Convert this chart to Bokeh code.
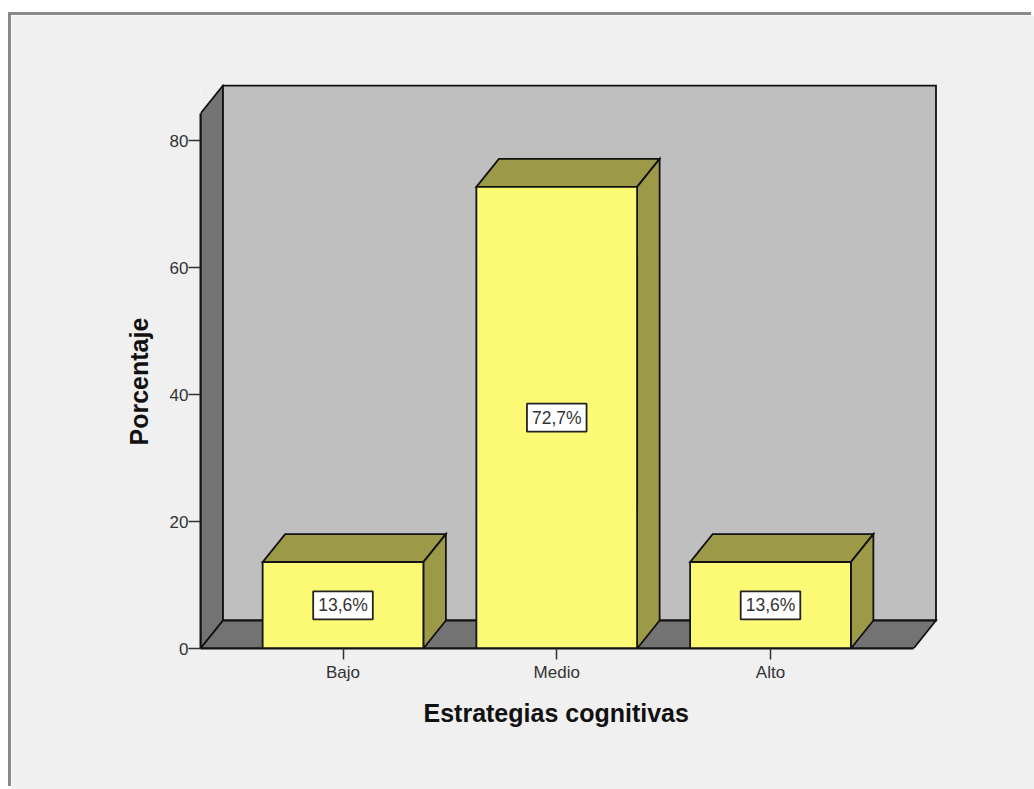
from bokeh.embed import file_html
from bokeh.models import FixedTicker, InlineStyleSheet, Label, Range1d, Title
from bokeh.plotting import figure
from bokeh.resources import INLINE

categories = ["Bajo", "Medio", "Alto"]
percentages = [13.6, 72.7, 13.6]
y_ticks = [0, 20, 40, 60, 80]
x_title = "Estrategias cognitivas"
y_title = "Porcentaje"

# Pixel geometry of the page and of the plotting frame
PAGE_W, PAGE_H = 1034, 789
PANEL_X, PANEL_Y = 11, 15
LEFT, RIGHT, TOP, BOTTOM = 200, 938, 84, 648
PX_PER_PCT = 6.35
PX_PER_CAT = 213.75
CAT0_PX = 342.5

# Oblique offset of the 3D box, in data units
DX = 22.5 / PX_PER_CAT
DY = 28 / PX_PER_PCT
BAR_W = 0.752
X_MIN = (LEFT - CAT0_PX) / PX_PER_CAT
X_MAX = (RIGHT - CAT0_PX) / PX_PER_CAT
FRONT_R = (913 - CAT0_PX) / PX_PER_CAT
WALL_TOP = (BOTTOM - 113) / PX_PER_PCT

p = figure(
    width=PAGE_W - PANEL_X, height=PAGE_H - PANEL_Y,
    margin=(PANEL_Y, 0, 0, PANEL_X),
    output_backend="svg", toolbar_location=None,
    x_range=Range1d(X_MIN, X_MAX),
    y_range=Range1d(0, (BOTTOM - TOP) / PX_PER_PCT),
    min_border_left=LEFT - PANEL_X, min_border_right=PAGE_W - RIGHT,
    min_border_top=TOP - PANEL_Y, min_border_bottom=PAGE_H - BOTTOM,
    border_fill_color="#f0f0f0", background_fill_color="#f0f0f0",
    outline_line_color=None,
    # Grey rule along the panel's top and left edges
    stylesheets=[InlineStyleSheet(css=":host { box-shadow: -3px -3px 0 #8a8a8a; }")],
)
p.grid.visible = False

edge = dict(line_color="#111111", line_width=1.8, line_join="miter")

# Side wall, back wall and floor of the box
p.patch([X_MIN, X_MIN + DX, X_MIN + DX, X_MIN], [WALL_TOP, WALL_TOP + DY, DY, 0],
        fill_color="#737373", **edge)
p.patch([X_MIN + DX, FRONT_R + DX, FRONT_R + DX, X_MIN + DX],
        [WALL_TOP + DY, WALL_TOP + DY, DY, DY], fill_color="#bfbfbf", **edge)
p.patch([X_MIN, FRONT_R, FRONT_R + DX, X_MIN + DX], [0, 0, DY, DY],
        fill_color="#737373", **edge)

# Bars: top face, side face, then front face
for i, v in enumerate(percentages):
    x0, x1 = i - BAR_W / 2, i + BAR_W / 2
    p.patch([x0, x1, x1 + DX, x0 + DX], [v, v, v + DY, v + DY], fill_color="#9c9a47", **edge)
    p.patch([x1, x1 + DX, x1 + DX, x1], [0, DY, v + DY, v], fill_color="#9c9a47", **edge)
    p.patch([x0, x1, x1, x0], [0, 0, v, v], fill_color="#fcf974", **edge)

    # Value label centred on the front face
    p.add_layout(Label(
        x=i, y=v / 2, text=f"{v:.1f}%".replace(".", ","),
        text_align="center", text_baseline="middle",
        text_font="Liberation Sans", text_font_size="17.5px", text_color="#333333",
        background_fill_color="white", border_line_color="#222222", border_line_width=1.8,
        padding=(5, 4),
    ))

xa = p.xaxis[0]
xa.ticker = FixedTicker(ticks=list(range(len(categories))))
xa.major_label_overrides = {i: c for i, c in enumerate(categories)}
xa.bounds = (X_MIN, FRONT_R)
xa.major_tick_out = 11
xa.major_tick_in = 0
xa.minor_tick_line_color = None
xa.major_label_standoff = 3

ya = p.yaxis[0]
ya.ticker = FixedTicker(ticks=y_ticks)
ya.bounds = (0, WALL_TOP)
ya.major_tick_out = 12
ya.major_tick_in = 0
ya.minor_tick_line_color = None
ya.major_label_standoff = 0

for ax in (xa, ya):
    ax.axis_line_color = "#111111"
    ax.axis_line_width = 2
    ax.major_tick_line_color = "#333333"
    ax.major_tick_line_width = 1.5
    ax.major_label_text_font = "Liberation Sans"
    ax.major_label_text_font_size = "17px"
    ax.major_label_text_color = "#333333"

# Axis titles sit in the side panels, offset along the front plane of the box
title_style = dict(
    text_font="Liberation Sans", text_font_style="bold", text_font_size="25px",
    text_color="#111111", align="left",
)
p.add_layout(Title(text=x_title, offset=223, standoff=24, **title_style), "below")
p.add_layout(Title(text=y_title, offset=203, standoff=28, **title_style), "left")

open("out.html", "w").write(file_html(p, INLINE))
